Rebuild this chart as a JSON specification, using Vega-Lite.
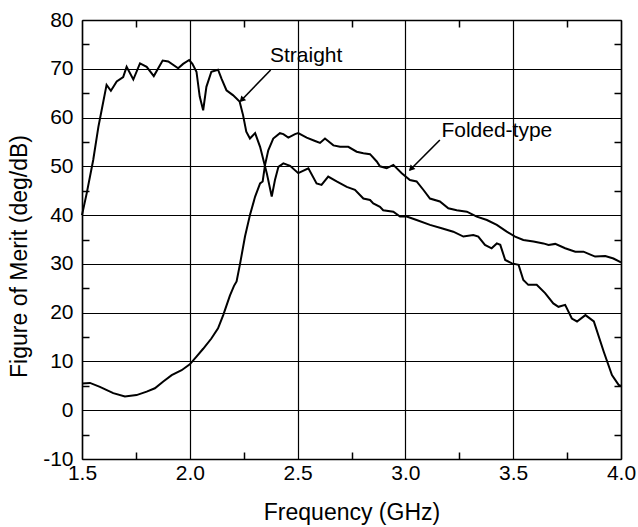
{
  "$schema": "https://vega.github.io/schema/vega-lite/v6.json",
  "width": 539,
  "height": 439,
  "autosize": "none",
  "padding": {"left": 82, "top": 20, "right": 17, "bottom": 68},
  "background": "white",
  "config": {"view": {"stroke": null}, "font": "Liberation Sans"},
  "datasets": {
    "curves": [
      {"series": "Straight", "freq": 1.5, "fom": 40},
      {"series": "Straight", "freq": 1.522, "fom": 44.5},
      {"series": "Straight", "freq": 1.552, "fom": 51.3},
      {"series": "Straight", "freq": 1.576, "fom": 58.1},
      {"series": "Straight", "freq": 1.591, "fom": 61.5},
      {"series": "Straight", "freq": 1.614, "fom": 66.7},
      {"series": "Straight", "freq": 1.634, "fom": 65.5},
      {"series": "Straight", "freq": 1.661, "fom": 67.4},
      {"series": "Straight", "freq": 1.691, "fom": 68.3},
      {"series": "Straight", "freq": 1.707, "fom": 70.4},
      {"series": "Straight", "freq": 1.738, "fom": 67.8},
      {"series": "Straight", "freq": 1.769, "fom": 71.1},
      {"series": "Straight", "freq": 1.8, "fom": 70.4},
      {"series": "Straight", "freq": 1.833, "fom": 68.5},
      {"series": "Straight", "freq": 1.874, "fom": 71.7},
      {"series": "Straight", "freq": 1.9, "fom": 71.5},
      {"series": "Straight", "freq": 1.946, "fom": 70.1},
      {"series": "Straight", "freq": 1.969, "fom": 71.0},
      {"series": "Straight", "freq": 1.997, "fom": 71.8},
      {"series": "Straight", "freq": 2.012, "fom": 71.0},
      {"series": "Straight", "freq": 2.031, "fom": 69.4},
      {"series": "Straight", "freq": 2.046, "fom": 64.3},
      {"series": "Straight", "freq": 2.062, "fom": 61.5},
      {"series": "Straight", "freq": 2.077, "fom": 66.3},
      {"series": "Straight", "freq": 2.1, "fom": 69.4},
      {"series": "Straight", "freq": 2.131, "fom": 69.8},
      {"series": "Straight", "freq": 2.147, "fom": 68.0},
      {"series": "Straight", "freq": 2.17, "fom": 65.6},
      {"series": "Straight", "freq": 2.2, "fom": 64.6},
      {"series": "Straight", "freq": 2.231, "fom": 63.3},
      {"series": "Straight", "freq": 2.247, "fom": 60.5},
      {"series": "Straight", "freq": 2.262, "fom": 57.1},
      {"series": "Straight", "freq": 2.279, "fom": 55.7},
      {"series": "Straight", "freq": 2.303, "fom": 56.8},
      {"series": "Straight", "freq": 2.326, "fom": 54.0},
      {"series": "Straight", "freq": 2.357, "fom": 48.6},
      {"series": "Straight", "freq": 2.38, "fom": 43.8},
      {"series": "Straight", "freq": 2.395, "fom": 47.2},
      {"series": "Straight", "freq": 2.411, "fom": 49.9},
      {"series": "Straight", "freq": 2.434, "fom": 50.6},
      {"series": "Straight", "freq": 2.465, "fom": 50.1},
      {"series": "Straight", "freq": 2.503, "fom": 48.6},
      {"series": "Straight", "freq": 2.55, "fom": 49.6},
      {"series": "Straight", "freq": 2.588, "fom": 46.5},
      {"series": "Straight", "freq": 2.611, "fom": 46.2},
      {"series": "Straight", "freq": 2.642, "fom": 47.9},
      {"series": "Straight", "freq": 2.681, "fom": 46.9},
      {"series": "Straight", "freq": 2.728, "fom": 45.8},
      {"series": "Straight", "freq": 2.766, "fom": 45.2},
      {"series": "Straight", "freq": 2.805, "fom": 43.4},
      {"series": "Straight", "freq": 2.836, "fom": 43.1},
      {"series": "Straight", "freq": 2.851, "fom": 42.4},
      {"series": "Straight", "freq": 2.882, "fom": 41.7},
      {"series": "Straight", "freq": 2.897, "fom": 41.0},
      {"series": "Straight", "freq": 2.944, "fom": 40.7},
      {"series": "Straight", "freq": 2.975, "fom": 39.7},
      {"series": "Straight", "freq": 3.006, "fom": 39.7},
      {"series": "Straight", "freq": 3.052, "fom": 39.0},
      {"series": "Straight", "freq": 3.114, "fom": 38.0},
      {"series": "Straight", "freq": 3.168, "fom": 37.3},
      {"series": "Straight", "freq": 3.222, "fom": 36.6},
      {"series": "Straight", "freq": 3.269, "fom": 35.6},
      {"series": "Straight", "freq": 3.315, "fom": 35.9},
      {"series": "Straight", "freq": 3.338, "fom": 35.6},
      {"series": "Straight", "freq": 3.369, "fom": 33.9},
      {"series": "Straight", "freq": 3.4, "fom": 33.2},
      {"series": "Straight", "freq": 3.424, "fom": 34.2},
      {"series": "Straight", "freq": 3.44, "fom": 33.9},
      {"series": "Straight", "freq": 3.463, "fom": 30.8},
      {"series": "Straight", "freq": 3.494, "fom": 30.1},
      {"series": "Straight", "freq": 3.525, "fom": 29.8},
      {"series": "Straight", "freq": 3.547, "fom": 26.7},
      {"series": "Straight", "freq": 3.57, "fom": 25.7},
      {"series": "Straight", "freq": 3.609, "fom": 25.7},
      {"series": "Straight", "freq": 3.648, "fom": 24.0},
      {"series": "Straight", "freq": 3.686, "fom": 21.9},
      {"series": "Straight", "freq": 3.71, "fom": 21.2},
      {"series": "Straight", "freq": 3.741, "fom": 21.6},
      {"series": "Straight", "freq": 3.772, "fom": 18.8},
      {"series": "Straight", "freq": 3.796, "fom": 18.2},
      {"series": "Straight", "freq": 3.835, "fom": 19.5},
      {"series": "Straight", "freq": 3.874, "fom": 18.2},
      {"series": "Straight", "freq": 3.92, "fom": 12.0},
      {"series": "Straight", "freq": 3.958, "fom": 7.2},
      {"series": "Straight", "freq": 3.989, "fom": 5.2},
      {"series": "Straight", "freq": 4.0, "fom": 5.0},
      {"series": "Folded-type", "freq": 1.5, "fom": 5.5},
      {"series": "Folded-type", "freq": 1.537, "fom": 5.6},
      {"series": "Folded-type", "freq": 1.583, "fom": 4.8},
      {"series": "Folded-type", "freq": 1.645, "fom": 3.5},
      {"series": "Folded-type", "freq": 1.699, "fom": 2.8},
      {"series": "Folded-type", "freq": 1.753, "fom": 3.1},
      {"series": "Folded-type", "freq": 1.8, "fom": 3.8},
      {"series": "Folded-type", "freq": 1.838, "fom": 4.5},
      {"series": "Folded-type", "freq": 1.877, "fom": 5.9},
      {"series": "Folded-type", "freq": 1.916, "fom": 7.2},
      {"series": "Folded-type", "freq": 1.962, "fom": 8.2},
      {"series": "Folded-type", "freq": 2.0, "fom": 9.4},
      {"series": "Folded-type", "freq": 2.031, "fom": 11.0},
      {"series": "Folded-type", "freq": 2.062, "fom": 12.6},
      {"series": "Folded-type", "freq": 2.1, "fom": 14.7},
      {"series": "Folded-type", "freq": 2.131, "fom": 16.8},
      {"series": "Folded-type", "freq": 2.155, "fom": 19.5},
      {"series": "Folded-type", "freq": 2.186, "fom": 23.5},
      {"series": "Folded-type", "freq": 2.205, "fom": 25.5},
      {"series": "Folded-type", "freq": 2.217, "fom": 26.4},
      {"series": "Folded-type", "freq": 2.233, "fom": 30.0},
      {"series": "Folded-type", "freq": 2.256, "fom": 35.6},
      {"series": "Folded-type", "freq": 2.28, "fom": 40.2},
      {"series": "Folded-type", "freq": 2.303, "fom": 43.8},
      {"series": "Folded-type", "freq": 2.326, "fom": 46.5},
      {"series": "Folded-type", "freq": 2.338, "fom": 46.9},
      {"series": "Folded-type", "freq": 2.349, "fom": 50.3},
      {"series": "Folded-type", "freq": 2.364, "fom": 53.3},
      {"series": "Folded-type", "freq": 2.387, "fom": 55.7},
      {"series": "Folded-type", "freq": 2.418, "fom": 56.8},
      {"series": "Folded-type", "freq": 2.434, "fom": 56.6},
      {"series": "Folded-type", "freq": 2.457, "fom": 55.9},
      {"series": "Folded-type", "freq": 2.488, "fom": 56.6},
      {"series": "Folded-type", "freq": 2.503, "fom": 56.8},
      {"series": "Folded-type", "freq": 2.542, "fom": 55.9},
      {"series": "Folded-type", "freq": 2.581, "fom": 55.2},
      {"series": "Folded-type", "freq": 2.604, "fom": 54.8},
      {"series": "Folded-type", "freq": 2.627, "fom": 55.7},
      {"series": "Folded-type", "freq": 2.666, "fom": 54.3},
      {"series": "Folded-type", "freq": 2.697, "fom": 54.0},
      {"series": "Folded-type", "freq": 2.735, "fom": 54.0},
      {"series": "Folded-type", "freq": 2.774, "fom": 53.0},
      {"series": "Folded-type", "freq": 2.805, "fom": 52.7},
      {"series": "Folded-type", "freq": 2.836, "fom": 52.5},
      {"series": "Folded-type", "freq": 2.867, "fom": 51.0},
      {"series": "Folded-type", "freq": 2.882, "fom": 50.0},
      {"series": "Folded-type", "freq": 2.913, "fom": 49.6},
      {"series": "Folded-type", "freq": 2.944, "fom": 50.3},
      {"series": "Folded-type", "freq": 2.983, "fom": 48.6},
      {"series": "Folded-type", "freq": 3.021, "fom": 47.2},
      {"series": "Folded-type", "freq": 3.052, "fom": 46.9},
      {"series": "Folded-type", "freq": 3.083, "fom": 45.2},
      {"series": "Folded-type", "freq": 3.114, "fom": 43.4},
      {"series": "Folded-type", "freq": 3.16, "fom": 42.8},
      {"series": "Folded-type", "freq": 3.199, "fom": 41.4},
      {"series": "Folded-type", "freq": 3.238, "fom": 41.0},
      {"series": "Folded-type", "freq": 3.285, "fom": 40.7},
      {"series": "Folded-type", "freq": 3.331, "fom": 39.7},
      {"series": "Folded-type", "freq": 3.378, "fom": 39.0},
      {"series": "Folded-type", "freq": 3.424, "fom": 38.0},
      {"series": "Folded-type", "freq": 3.47, "fom": 36.6},
      {"series": "Folded-type", "freq": 3.509, "fom": 35.6},
      {"series": "Folded-type", "freq": 3.547, "fom": 34.9},
      {"series": "Folded-type", "freq": 3.594, "fom": 34.6},
      {"series": "Folded-type", "freq": 3.64, "fom": 34.2},
      {"series": "Folded-type", "freq": 3.664, "fom": 33.9},
      {"series": "Folded-type", "freq": 3.695, "fom": 34.1},
      {"series": "Folded-type", "freq": 3.741, "fom": 33.2},
      {"series": "Folded-type", "freq": 3.788, "fom": 32.5},
      {"series": "Folded-type", "freq": 3.826, "fom": 32.5},
      {"series": "Folded-type", "freq": 3.88, "fom": 31.5},
      {"series": "Folded-type", "freq": 3.927, "fom": 31.6},
      {"series": "Folded-type", "freq": 3.965, "fom": 31.1},
      {"series": "Folded-type", "freq": 4.0, "fom": 30.3}
    ],
    "labels": [
      {"label": "Straight", "freq": 2.372, "fom": 71.3},
      {"label": "Folded-type", "freq": 3.167, "fom": 56.1}
    ],
    "arrows": [
      {"label": "Straight", "freq": 2.375, "fom": 69.75, "freq2": 2.236, "fom2": 63.4, "headFreq": 2.244, "headFom": 63.76},
      {"label": "Folded-type", "freq": 3.16, "fom": 55.4, "freq2": 3.021, "fom2": 49.25, "headFreq": 3.029, "headFom": 49.62}
    ]
  },
  "layer": [
    {
      "data": {"name": "curves"},
      "mark": {"type": "line", "color": "black", "strokeWidth": 2, "interpolate": "linear"},
      "encoding": {
        "x": {
          "field": "freq", "type": "quantitative",
          "scale": {"domain": [1.5, 4.0], "nice": false, "zero": false},
          "axis": {
            "orient": "bottom", "values": [1.5, 2.0, 2.5, 3.0, 3.5, 4.0], "format": ".1f",
            "grid": true, "gridColor": "black", "gridOpacity": 1, "gridWidth": 1.2,
            "ticks": false, "domain": true, "domainColor": "black", "domainWidth": 1.5,
            "labelFontSize": 21, "labelColor": "black", "labelPadding": 3, "labelFlush": false, "labelOverlap": false,
            "title": "Frequency (GHz)", "titleFontSize": 23, "titleFontWeight": "normal", "titleColor": "black",
            "titleBaseline": "alphabetic", "titleY": 60
          }
        },
        "y": {
          "field": "fom", "type": "quantitative",
          "scale": {"domain": [-10, 80], "nice": false, "zero": false},
          "axis": {
            "orient": "left", "values": [-10, 0, 10, 20, 30, 40, 50, 60, 70, 80],
            "labelExpr": "toString(datum.value)",
            "grid": true, "gridColor": "black", "gridOpacity": 1, "gridWidth": 1.2,
            "ticks": false, "domain": true, "domainColor": "black", "domainWidth": 1.5,
            "labelFontSize": 21, "labelColor": "black", "labelPadding": 9, "labelFlush": false, "labelOverlap": false,
            "title": "Figure of Merit (deg/dB)", "titleFontSize": 23, "titleFontWeight": "normal", "titleColor": "black",
            "titleBaseline": "alphabetic", "titleX": -56, "titleY": 236, "titleAngle": -90, "titleAlign": "center"
          }
        },
        "detail": {"field": "series", "type": "nominal"}
      }
    },
    {
      "data": {"name": "curves"},
      "mark": {"type": "point", "opacity": 0},
      "encoding": {
        "x": {
          "field": "freq", "type": "quantitative",
          "axis": {
            "orient": "top", "values": [1.75, 2.25, 2.75, 3.25, 3.75], "labels": false, "grid": false,
            "ticks": true, "tickSize": -7, "tickColor": "black", "tickWidth": 1.5,
            "domain": true, "domainColor": "black", "domainWidth": 1.5, "title": null
          }
        },
        "y": {
          "field": "fom", "type": "quantitative",
          "axis": {
            "orient": "right", "values": [-5, 5, 15, 25, 35, 45, 55, 65, 75], "labels": false, "grid": false,
            "ticks": true, "tickSize": -7, "tickColor": "black", "tickWidth": 1.5,
            "domain": true, "domainColor": "black", "domainWidth": 1.5, "title": null
          }
        }
      }
    },
    {
      "data": {"name": "curves"},
      "mark": {"type": "point", "opacity": 0},
      "encoding": {
        "x": {
          "field": "freq", "type": "quantitative",
          "axis": {
            "orient": "bottom", "values": [1.75, 2.25, 2.75, 3.25, 3.75], "labels": false, "grid": false,
            "ticks": true, "tickSize": -7, "tickColor": "black", "tickWidth": 1.5,
            "domain": false, "title": null
          }
        },
        "y": {
          "field": "fom", "type": "quantitative",
          "axis": {
            "orient": "left", "values": [-5, 5, 15, 25, 35, 45, 55, 65, 75], "labels": false, "grid": false,
            "ticks": true, "tickSize": -7, "tickColor": "black", "tickWidth": 1.5,
            "domain": false, "title": null
          }
        }
      }
    },
    {
      "data": {"name": "labels"},
      "mark": {"type": "text", "align": "left", "baseline": "alphabetic", "fontSize": 21, "color": "black", "font": "Liberation Sans"},
      "encoding": {
        "x": {"field": "freq", "type": "quantitative", "axis": null},
        "y": {"field": "fom", "type": "quantitative", "axis": null},
        "text": {"field": "label"}
      }
    },
    {
      "data": {"name": "arrows"},
      "mark": {"type": "rule", "color": "black", "strokeWidth": 1.6},
      "encoding": {
        "x": {"field": "freq", "type": "quantitative", "axis": null},
        "y": {"field": "fom", "type": "quantitative", "axis": null},
        "x2": {"field": "freq2"},
        "y2": {"field": "fom2"}
      }
    },
    {
      "data": {"name": "arrows"},
      "mark": {"type": "point", "shape": "triangle", "filled": true, "color": "black", "opacity": 1, "size": 45, "angle": 224},
      "encoding": {
        "x": {"field": "headFreq", "type": "quantitative", "axis": null},
        "y": {"field": "headFom", "type": "quantitative", "axis": null}
      }
    }
  ],
  "resolve": {"axis": {"x": "independent", "y": "independent"}}
}
